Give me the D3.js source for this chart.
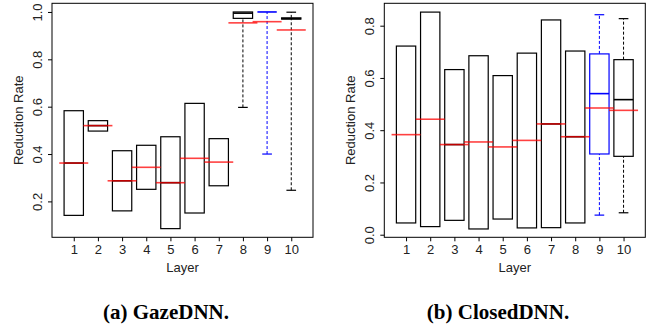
<!DOCTYPE html>
<html>
<head>
<meta charset="utf-8">
<script src="https://cdn.jsdelivr.net/npm/d3@7"></script>
<style>
  body { margin: 0; background: #fff; }
  svg { display: block; }
  .tick text { font-family: "Liberation Sans", Arial, sans-serif; font-size: 13px; fill: #222; }
</style>
</head>
<body>
<svg id="chart" width="656" height="328"></svg>
<script>
// layer positions 1..10
const layers = [1, 2, 3, 4, 5, 6, 7, 8, 9, 10];

// GazeDNN (a)
const gazeQ1   = [0.141, 0.497, 0.160, 0.251, 0.085, 0.151, 0.266, 0.973, 1.000, 0.970];
const gazeQ3   = [0.583, 0.541, 0.414, 0.437, 0.473, 0.614, 0.465, 1.000, 1.000, 0.975];
const gazeMed  = [0.362, 0.520, 0.287, null, 0.279, null, null, 0.995, 1.000, 0.972];
const gazeLo   = [0.141, 0.497, 0.160, 0.251, 0.085, 0.151, 0.266, 0.597, 0.400, 0.247];
const gazeHi   = [0.583, 0.541, 0.414, 0.437, 0.473, 0.614, 0.465, 1.000, 1.000, 0.999];
const gazeMean = [0.362, 0.520, 0.287, 0.344, 0.279, 0.382, 0.366, 0.954, 0.959, 0.924];
const gazeTicks = [0.2, 0.4, 0.6, 0.8, 1.0];

// ClosedDNN (b)
const closedQ1   = [0.045, 0.031, 0.055, 0.022, 0.060, 0.026, 0.027, 0.045, 0.309, 0.300];
const closedQ3   = [0.722, 0.852, 0.632, 0.685, 0.609, 0.695, 0.822, 0.703, 0.692, 0.670];
const closedMed  = [null, null, 0.345, null, null, null, 0.424, 0.375, 0.540, 0.517];
const closedLo   = [0.045, 0.031, 0.055, 0.022, 0.060, 0.026, 0.027, 0.045, 0.075, 0.084];
const closedHi   = [0.722, 0.852, 0.632, 0.685, 0.609, 0.695, 0.822, 0.703, 0.842, 0.827];
const closedMean = [0.383, 0.442, 0.345, 0.355, 0.336, 0.361, 0.424, 0.375, 0.485, 0.476];
const closedTicks = [0.0, 0.2, 0.4, 0.6, 0.8];

const highlight = 9; // layer drawn in blue

const svg = d3.select("#chart");

function panel(opts) {
    const x = d3.scaleLinear().domain([0.1, 10.9]).range([opts.left, opts.right]);
    const y = d3.scaleLinear().domain(opts.yDomain).range([opts.bottom, opts.top]);
    const g = svg.append("g");
    const bw = x(0.4) - x(0);   // half box width
    const mw = x(0.6) - x(0);   // half mean-line width
    const cw = x(0.2) - x(0);   // half staple width

    const rows = layers.map((l, i) => ({
        l, q1: opts.q1[i], q3: opts.q3[i], med: opts.med[i],
        lo: opts.lo[i], hi: opts.hi[i], mean: opts.mean[i]
    }));
    const col = d => d.l === highlight ? "#0000ff" : "#000";

    // whiskers (dashed)
    rows.forEach(d => {
        const segs = [];
        if (d.lo < d.q1) segs.push([d.lo, d.q1]);
        if (d.hi > d.q3) segs.push([d.q3, d.hi]);
        segs.forEach(s => {
            g.append("line")
                .attr("x1", x(d.l)).attr("x2", x(d.l))
                .attr("y1", y(s[0])).attr("y2", y(s[1]))
                .attr("stroke", col(d)).attr("stroke-width", 1)
                .attr("stroke-dasharray", "3,2");
        });
        if (d.lo < d.q1) {
            g.append("line").attr("x1", x(d.l) - cw).attr("x2", x(d.l) + cw)
                .attr("y1", y(d.lo)).attr("y2", y(d.lo))
                .attr("stroke", col(d)).attr("stroke-width", 1.2);
        }
        if (d.hi > d.q3) {
            g.append("line").attr("x1", x(d.l) - cw).attr("x2", x(d.l) + cw)
                .attr("y1", y(d.hi)).attr("y2", y(d.hi))
                .attr("stroke", col(d)).attr("stroke-width", 1.2);
        }
    });

    // boxes
    g.selectAll("rect.box").data(rows).join("rect")
        .attr("class", "box")
        .attr("x", d => x(d.l) - bw)
        .attr("width", 2 * bw)
        .attr("y", d => y(d.q3))
        .attr("height", d => Math.max(0, y(d.q1) - y(d.q3)))
        .attr("fill", "#fff")
        .attr("stroke", col)
        .attr("stroke-width", 1.2);

    // medians
    g.selectAll("line.med").data(rows.filter(d => d.med !== null)).join("line")
        .attr("class", "med")
        .attr("x1", d => x(d.l) - bw).attr("x2", d => x(d.l) + bw)
        .attr("y1", d => y(d.med)).attr("y2", d => y(d.med))
        .attr("stroke", col).attr("stroke-width", 1.6);

    // means
    g.selectAll("line.mean").data(rows).join("line")
        .attr("class", "mean")
        .attr("x1", d => x(d.l) - mw).attr("x2", d => x(d.l) + mw)
        .attr("y1", d => y(d.mean)).attr("y2", d => y(d.mean))
        .attr("stroke", "#ff0000").attr("stroke-opacity", 0.75)
        .attr("stroke-width", 1.6);

    // frame
    g.append("rect")
        .attr("x", opts.left).attr("y", opts.top)
        .attr("width", opts.right - opts.left).attr("height", opts.bottom - opts.top)
        .attr("fill", "none").attr("stroke", "#000").attr("stroke-width", 1);

    // axes
    const xa = g.append("g").attr("transform", `translate(0,${opts.bottom})`)
        .call(d3.axisBottom(x).tickValues(layers).tickSize(4).tickSizeOuter(0).tickFormat(d3.format("d")));
    xa.select(".domain").remove();
    xa.selectAll(".tick line").attr("stroke", "#000");
    xa.selectAll(".tick text").attr("y", 7.5);

    const ya = g.append("g").attr("transform", `translate(${opts.left},0)`)
        .call(d3.axisLeft(y).tickValues(opts.ticks).tickSize(4).tickFormat(d3.format(".1f")));
    ya.select(".domain").remove();
    ya.selectAll(".tick line").attr("stroke", "#000");
    ya.selectAll(".tick text")
        .attr("x", 0).attr("y", -10).attr("dy", 0)
        .attr("text-anchor", "middle")
        .attr("transform", "rotate(-90)");

    // axis titles
    g.append("text")
        .attr("x", (opts.left + opts.right) / 2).attr("y", 271.5)
        .attr("text-anchor", "middle")
        .style("font-family", "Liberation Sans, Arial, sans-serif").style("font-size", "13px").style("fill", "#222")
        .text("Layer");
    g.append("text")
        .attr("transform", `translate(${opts.left - 29},${(opts.top + opts.bottom) / 2}) rotate(-90)`)
        .attr("text-anchor", "middle")
        .style("font-family", "Liberation Sans, Arial, sans-serif").style("font-size", "13px").style("fill", "#222")
        .text("Reduction Rate");

    // caption
    svg.append("text")
        .attr("x", opts.capX).attr("y", 319)
        .attr("text-anchor", "middle")
        .style("font-family", "Liberation Serif, Times New Roman, serif")
        .style("font-weight", "bold").style("font-size", "21px").style("fill", "#000")
        .text(opts.caption);
}

panel({
    left: 52, right: 313, top: 3.3, bottom: 237.3,
    yDomain: [0.0484, 1.0366],
    q1: gazeQ1, q3: gazeQ3, med: gazeMed, lo: gazeLo, hi: gazeHi, mean: gazeMean,
    ticks: gazeTicks, caption: "(a) GazeDNN.", capX: 166
});

panel({
    left: 384.3, right: 645.3, top: 3.3, bottom: 237.3,
    yDomain: [-0.0099, 0.8857],
    q1: closedQ1, q3: closedQ3, med: closedMed, lo: closedLo, hi: closedHi, mean: closedMean,
    ticks: closedTicks, caption: "(b) ClosedDNN.", capX: 498
});
</script>
</body>
</html>
